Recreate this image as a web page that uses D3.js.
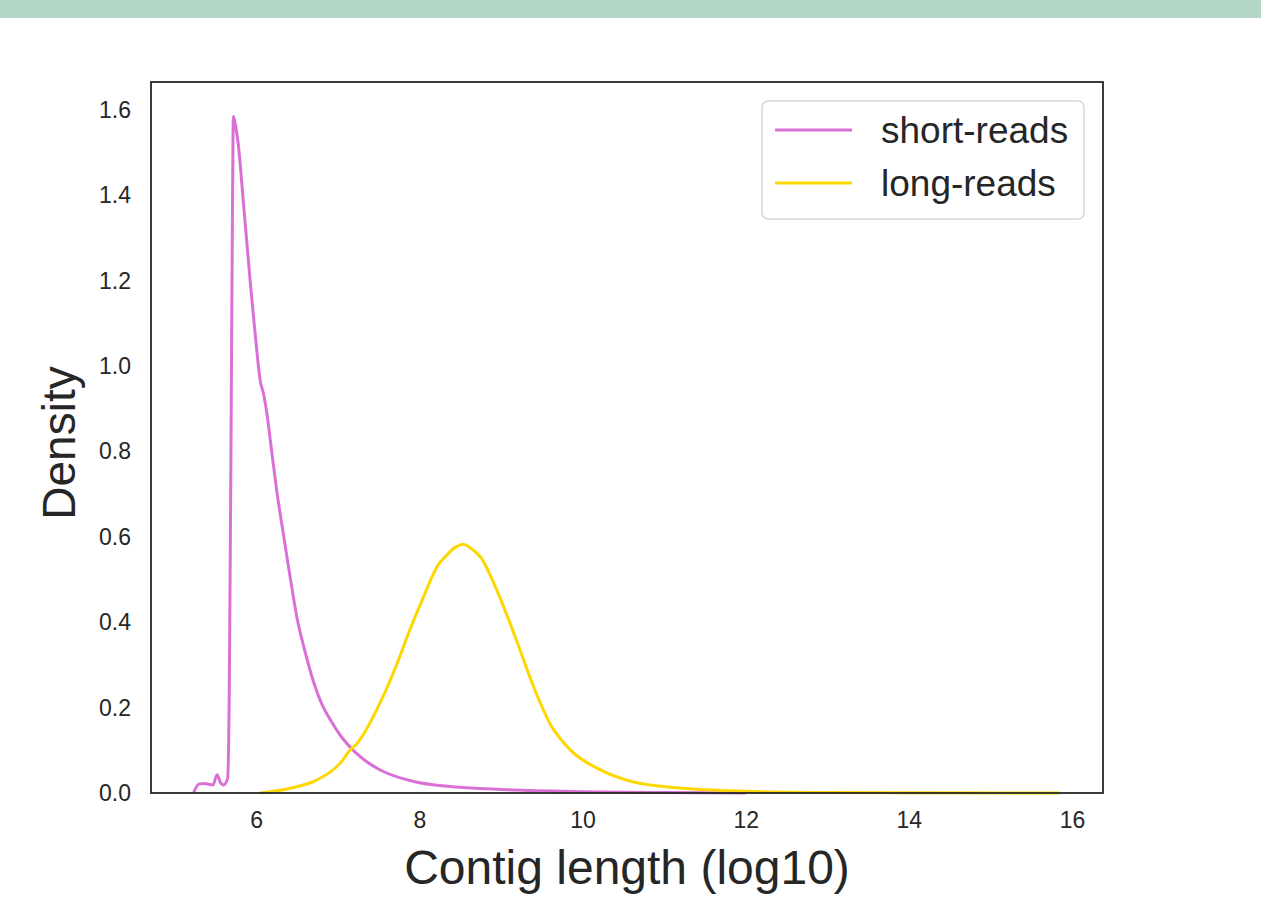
<!DOCTYPE html>
<html>
<head>
<meta charset="utf-8">
<script src="https://cdn.jsdelivr.net/npm/d3@7"></script>
<style>
  body { margin: 0; background: #fff; }
  text { font-family: "Liberation Sans", Arial, sans-serif; fill: #262626; }
</style>
</head>
<body>
<div id="chart"></div>
<script>
// density curves
const shortX = [5.23, 5.30, 5.36, 5.47, 5.52, 5.56, 5.60, 5.65, 5.67, 5.69, 5.71, 5.72, 5.75, 5.78, 5.84, 5.93, 5.99, 6.05, 6.09, 6.13, 6.19, 6.25, 6.33, 6.40, 6.50, 6.60, 6.70, 6.80, 6.91, 7.05, 7.19, 7.35, 7.52, 7.93, 8.38, 9.19, 10.0, 11.0, 12.0];
const shortY = [0, 0.021, 0.022, 0.019, 0.043, 0.025, 0.019, 0.035, 0.25, 0.8, 1.4, 1.585, 1.56, 1.52, 1.39, 1.19, 1.07, 0.965, 0.935, 0.89, 0.80, 0.71, 0.61, 0.525, 0.41, 0.33, 0.262, 0.21, 0.171, 0.13, 0.10, 0.074, 0.054, 0.027, 0.015, 0.007, 0.003, 0.001, 0];

const longX = [6.05, 6.42, 6.74, 7.03, 7.15, 7.23, 7.54, 7.76, 7.85, 8.03, 8.25, 8.30, 8.42, 8.54, 8.62, 8.75, 8.95, 9.19, 9.40, 9.60, 9.85, 10.22, 10.62, 11.24, 12.0, 13.0, 14.0, 15.85];
const longY = [0, 0.011, 0.030, 0.07, 0.10, 0.115, 0.22, 0.32, 0.366, 0.45, 0.54, 0.55, 0.573, 0.583, 0.575, 0.553, 0.475, 0.358, 0.249, 0.163, 0.101, 0.054, 0.026, 0.011, 0.004, 0.001, 0.0003, 0];

const seriesNames = ["short-reads", "long-reads"];
const seriesColors = ["#da70d6", "#ffd700"];
const xTicks = [6, 8, 10, 12, 14, 16];
const yTicks = [0, 0.2, 0.4, 0.6, 0.8, 1.0, 1.2, 1.4, 1.6];

const width = 1261, height = 901;
const margin = {top: 82, right: 158, bottom: 108, left: 151};

let svg = d3.select("#chart").append("svg")
    .attr("width", width)
    .attr("height", height);

// green strip on top
svg.append("rect")
    .attr("x", 0).attr("y", 0)
    .attr("width", width).attr("height", 18)
    .attr("fill", "#b2d5c6");

let x = d3.scaleLinear().domain([4.71, 16.38]).range([margin.left, width - margin.right]);
let y = d3.scaleLinear().domain([0, 1.666]).range([height - margin.bottom, margin.top]);

let line = d3.line()
    .x(d => x(d[0]))
    .y(d => y(d[1]))
    .curve(d3.curveMonotoneX);

let series = [
  d3.zip(shortX, shortY),
  d3.zip(longX, longY)
];

svg.selectAll("path.curve")
    .data(series)
    .enter()
    .append("path")
    .attr("class", "curve")
    .attr("d", line)
    .attr("fill", "none")
    .attr("stroke", (d, i) => seriesColors[i])
    .attr("stroke-width", 3)
    .attr("stroke-linejoin", "round");

// axes without tick marks
let xAxis = svg.append("g")
    .attr("transform", "translate(0," + (height - margin.bottom) + ")")
    .call(d3.axisBottom(x).tickValues(xTicks).tickSize(0).tickPadding(19).tickFormat(d3.format("d")));
xAxis.select(".domain").remove();
xAxis.selectAll("text").style("font-size", "23px").attr("fill", "#262626");

let yAxis = svg.append("g")
    .attr("transform", "translate(" + margin.left + ",0)")
    .call(d3.axisLeft(y).tickValues(yTicks).tickSize(0).tickPadding(20).tickFormat(d3.format(".1f")));
yAxis.select(".domain").remove();
yAxis.selectAll("text").style("font-size", "23px").attr("fill", "#262626");

// frame
svg.append("rect")
    .attr("x", margin.left).attr("y", margin.top)
    .attr("width", width - margin.left - margin.right)
    .attr("height", height - margin.top - margin.bottom)
    .attr("fill", "none")
    .attr("stroke", "#262626")
    .attr("stroke-width", 1.8);

// axis labels
svg.append("text")
    .attr("x", (margin.left + width - margin.right) / 2)
    .attr("y", 884)
    .attr("text-anchor", "middle")
    .style("font-size", "48px")
    .text("Contig length (log10)");

svg.append("text")
    .attr("transform", "translate(75,443) rotate(-90)")
    .attr("text-anchor", "middle")
    .style("font-size", "46px")
    .text("Density");

// legend
let legend = svg.append("g").attr("transform", "translate(762,101)");
legend.append("rect")
    .attr("width", 322).attr("height", 118)
    .attr("rx", 6)
    .attr("fill", "#fff")
    .attr("stroke", "#d6d6d6")
    .attr("stroke-width", 1.5);

let items = legend.selectAll("g.item")
    .data(seriesNames)
    .enter()
    .append("g")
    .attr("class", "item")
    .attr("transform", (d, i) => "translate(0," + (29 + i * 53) + ")");
items.append("line")
    .attr("x1", 13).attr("x2", 90)
    .attr("stroke", (d, i) => seriesColors[i])
    .attr("stroke-width", 3);
items.append("text")
    .attr("x", 119)
    .attr("y", 13)
    .style("font-size", "37px")
    .text(d => d);
</script>
</body>
</html>
